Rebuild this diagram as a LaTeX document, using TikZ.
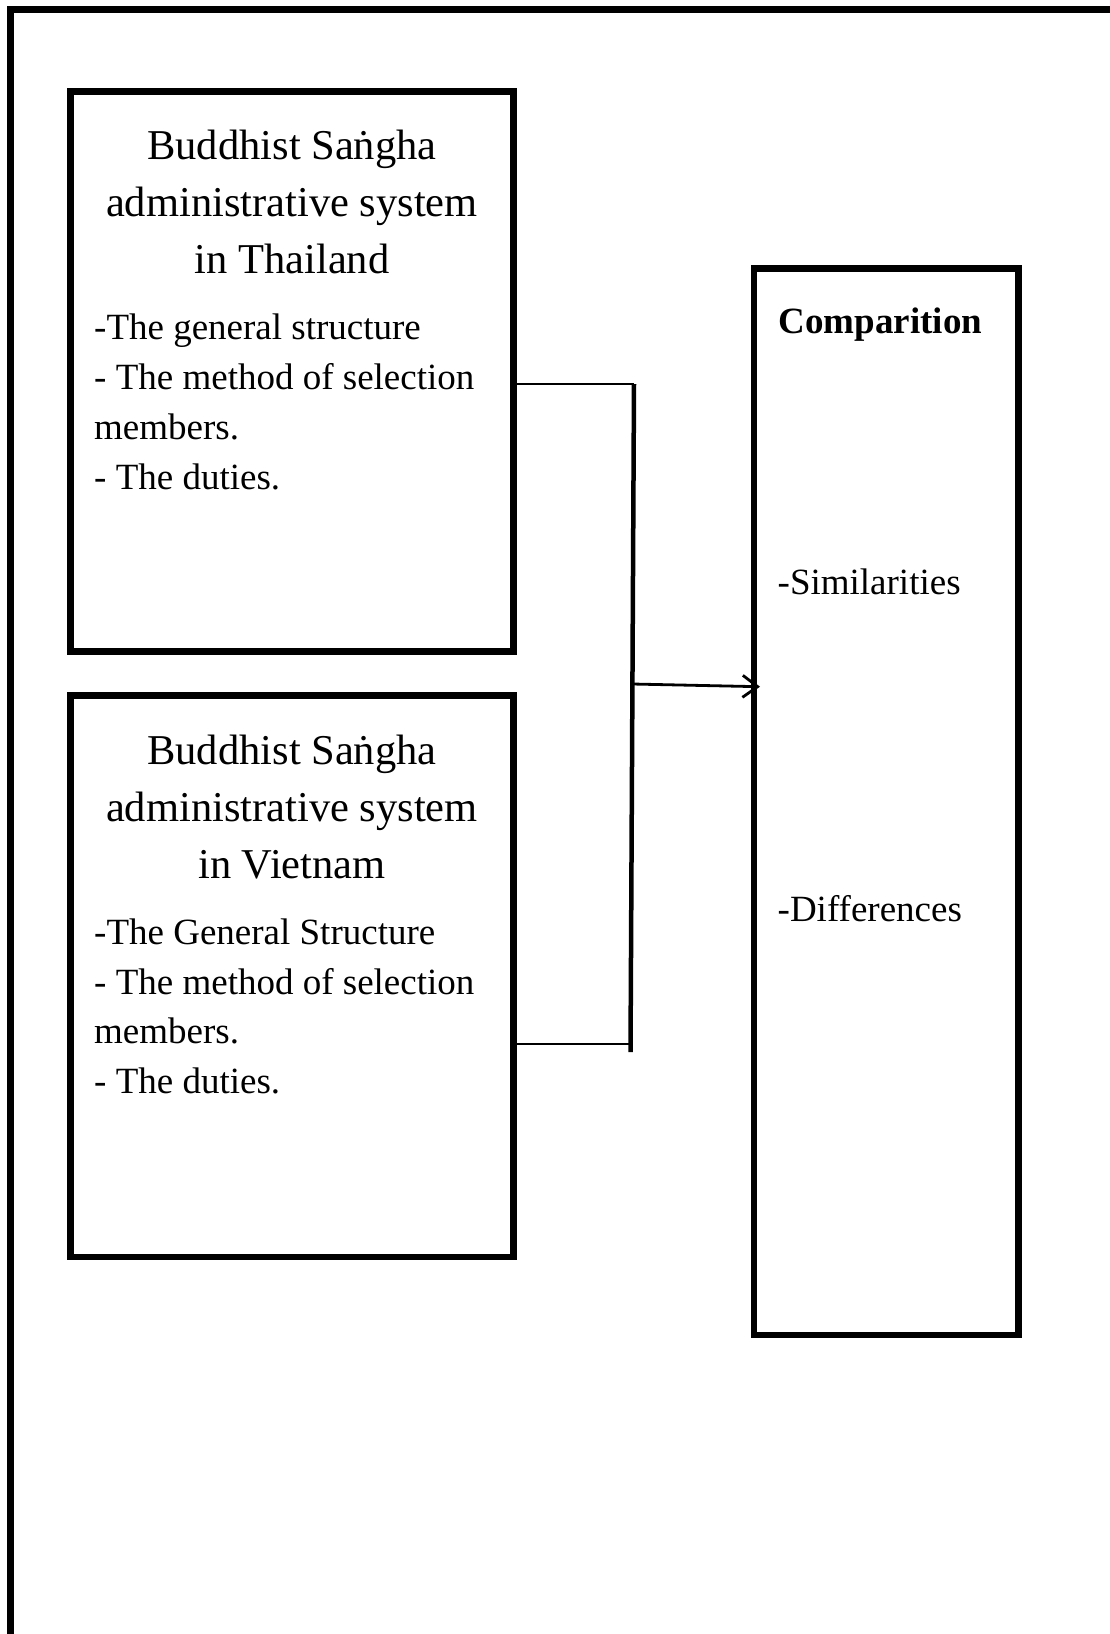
\documentclass[tikz,border=0pt]{standalone}
\usepackage{fontspec}
\setmainfont{Liberation Serif}
\usetikzlibrary{arrows.meta}
\begin{document}
\begin{tikzpicture}[x=1pt,y=-1pt,
  box/.style={draw,line width=6.7pt,inner sep=0pt,outer sep=0pt,anchor=north west},
  ttl/.style={align=center,font=\fontsize{42.5}{56.8}\selectfont,inner sep=0pt,anchor=base},
  lst/.style={align=left,font=\fontsize{37}{49.7}\selectfont,inner sep=0pt,anchor=base west},
  lbl/.style={font=\fontsize{37}{44}\selectfont,inner sep=0pt,anchor=base west},
  link/.style={line width=2.7pt},
  bus/.style={line width=4.5pt},
  arr/.style={line width=2.8pt,-{Straight Barb[length=15pt,width=22pt]}}]
\useasboundingbox (0,0) rectangle (1110,1634);
\clip (0,0) rectangle (1110,1634);
% outer frame
\coordinate (fa) at (10.5,1645);
\coordinate (fb) at (10.5,9.4);
\coordinate (fc) at (1120,9.4);
\draw[line width=6.7pt] (fa) -- (fb) -- (fc);
% boxes
\node[box,minimum width=443pt,minimum height=559.8pt] (thai) at (70.7,91.7) {};
\node[box,minimum width=443pt,minimum height=561.5pt] (viet) at (70.7,695.5) {};
\node[box,minimum width=264.3pt,minimum height=1066.3pt] (comp) at (754,268.7) {};
% texts (base anchor = baseline of the last line)
\node[ttl] (t1) at (292,273.5) {Buddhist Saṅgha\\administrative system\\in Thailand};
\node[lst] (l1) at (94,489) {-The general structure\\- The method of selection\\members.\\- The duties.};
\node[ttl] (t2) at (292,878) {Buddhist Saṅgha\\administrative system\\in Vietnam};
\node[lst] (l2) at (94,1093.6) {-The General Structure\\- The method of selection\\members.\\- The duties.};
\node[lbl,font=\fontsize{37}{44}\selectfont\bfseries] (c1) at (778.5,333) {Comparition};
\node[lbl] (c2) at (777.5,594.5) {-Similarities};
\node[lbl] (c3) at (777.5,921) {-Differences};
% connectors
\coordinate (j1) at (634,384);
\coordinate (j2) at (630.5,1044);
\coordinate (j3) at (630.5,1052);
\coordinate (ja) at (632.5,684);
\coordinate (jt) at (760,686.7);
\draw[link] (thai.east |- j1) -- (j1);
\draw[link] (viet.east |- j2) -- (j2);
\draw[bus] (j1) -- (j3);
\draw[arr] (ja) -- (jt);
\end{tikzpicture}
\end{document}
